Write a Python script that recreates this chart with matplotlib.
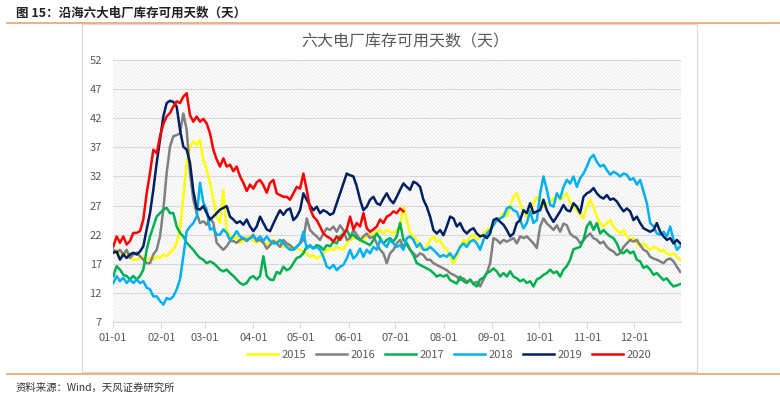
import numpy as np
import matplotlib
matplotlib.use("Agg")
import matplotlib.pyplot as plt
from matplotlib.patches import Rectangle
from matplotlib.lines import Line2D

plt.rcParams['font.family'] = ['Noto Sans CJK SC', 'DejaVu Sans']
plt.rcParams['hatch.linewidth'] = 0.8

# readings taken about every 2.14 days starting 1 Jan (day of year)
sample_days = np.arange(171) * 2.137 + 0.2

month_days = [0, 31, 59, 90, 120, 151, 181, 212, 243, 273, 304, 334]
month_labels = ['01-01', '02-01', '03-01', '04-01', '05-01', '06-01',
                '07-01', '08-01', '09-01', '10-01', '11-01', '12-01']
y_ticks = list(range(7, 53, 5))

y2015 = [18.9, 19.4, 18.6, 18.3, 18.9, 18.0, 17.7, 17.7, 18.0, 18.3,
         17.7, 18.0, 17.7, 18.3, 18.0, 18.6, 18.3, 18.9, 19.4, 20.6,
         22.9, 28.6, 34.3, 37.1, 38.0, 37.4, 38.3, 34.9, 33.1, 30.9,
         28.0, 25.1, 24.0, 29.7, 22.6, 22.0, 21.1, 21.7, 20.6, 20.9,
         21.7, 21.4, 20.9, 20.6, 21.1, 20.6, 20.3, 20.9, 21.1, 20.8,
         20.5, 19.9, 20.2, 19.9, 19.4, 19.6, 19.4, 19.1, 18.8, 18.2,
         18.5, 17.9, 18.2, 18.8, 19.4, 19.6, 19.4, 19.9, 19.6, 19.4,
         20.5, 21.1, 21.4, 21.7, 20.8, 21.1, 21.7, 22.2, 22.0, 22.5,
         22.8, 22.2, 22.8, 22.5, 22.2, 22.8, 23.4, 26.8, 24.5, 22.2,
         21.7, 21.1, 19.9, 19.4, 19.9, 21.1, 21.7, 20.8, 21.1, 19.9,
         19.4, 18.2, 17.1, 18.2, 19.9, 21.1, 20.5, 21.7, 22.0, 21.1,
         21.7, 22.2, 22.8, 23.1, 24.0, 24.5, 24.8, 25.7, 25.1, 27.0,
         28.5, 29.1, 27.4, 26.0, 25.1, 26.2, 27.4, 28.5, 28.0, 26.8,
         27.4, 27.7, 28.2, 28.8, 28.0, 28.5, 29.1, 27.4, 26.8, 26.2,
         25.4, 24.8, 26.8, 28.0, 26.8, 25.1, 24.0, 23.4, 24.0, 24.5,
         23.4, 22.8, 22.2, 22.8, 21.7, 21.1, 21.4, 20.5, 19.9, 20.5,
         19.9, 19.4, 19.9, 19.7, 19.1, 19.4, 18.8, 18.5, 18.8, 18.2, 17.7]

y2016 = [19.4, 18.9, 19.4, 18.6, 19.4, 18.0, 18.6, 18.9, 18.3, 17.7,
         17.1, 17.1, 18.6, 19.4, 21.7, 26.3, 32.6, 37.1, 38.9, 39.1,
         39.4, 42.8, 40.0, 32.6, 28.0, 25.7, 24.0, 24.3, 23.7, 24.9,
         24.0, 20.6, 20.0, 19.4, 20.0, 20.9, 20.9, 20.6, 21.1, 21.4,
         20.9, 21.4, 22.0, 20.9, 21.1, 20.6, 19.6, 20.2, 20.9, 20.5,
         19.9, 21.1, 20.5, 20.2, 19.6, 19.9, 20.5, 21.1, 24.8, 22.8,
         22.2, 21.7, 21.1, 22.2, 23.1, 22.8, 23.4, 22.5, 23.6, 22.8,
         21.1, 21.4, 22.8, 22.0, 21.1, 21.7, 22.2, 21.4, 21.7, 20.5,
         19.4, 18.8, 17.1, 18.8, 19.4, 20.5, 21.1, 19.9, 20.5, 19.4,
         18.8, 18.2, 18.8, 18.5, 17.7, 17.7, 17.1, 16.8, 16.5, 16.2,
         15.9, 15.4, 15.1, 14.8, 14.2, 14.5, 13.9, 14.2, 13.6, 13.9,
         13.1, 14.3, 15.4, 17.1, 21.4, 21.1, 20.5, 21.1, 20.8, 21.1,
         21.4, 20.5, 21.7, 21.4, 21.7, 21.1, 20.5, 19.7, 23.4, 24.8,
         23.9, 23.4, 22.8, 23.6, 22.5, 23.9, 23.6, 22.2, 21.7, 21.4,
         20.5, 21.1, 21.7, 22.2, 21.4, 21.1, 20.5, 20.8, 19.9, 19.4,
         19.1, 18.5, 18.8, 19.9, 20.5, 21.1, 20.8, 21.1, 20.2, 19.4,
         19.1, 18.2, 17.9, 17.7, 17.4, 17.1, 17.7, 17.9, 17.4, 16.5, 15.6]

y2017 = [14.9, 16.6, 16.0, 15.1, 14.9, 14.3, 14.9, 14.3, 14.9, 16.0,
         19.4, 21.7, 23.4, 25.1, 25.7, 26.3, 26.6, 25.7, 25.7, 23.4,
         22.3, 21.7, 20.6, 20.0, 19.4, 18.6, 18.0, 17.7, 17.1, 17.4,
         17.1, 16.6, 16.0, 15.7, 16.0, 15.4, 14.9, 14.3, 13.7, 13.4,
         13.7, 14.6, 14.9, 14.3, 14.9, 18.3, 14.9, 14.3, 14.2, 15.6,
         15.3, 16.5, 15.9, 16.2, 17.1, 18.0, 18.2, 18.8, 20.0, 20.0,
         19.7, 20.2, 20.0, 19.4, 20.2, 20.0, 20.8, 20.5, 21.7, 22.2,
         22.8, 21.7, 22.0, 21.4, 21.1, 20.8, 20.5, 20.2, 21.1, 22.2,
         21.4, 20.5, 21.1, 21.4, 20.8, 21.7, 24.0, 21.1, 20.5, 19.4,
         18.5, 17.1, 16.8, 16.5, 16.2, 15.9, 15.4, 14.8, 15.1, 14.8,
         15.1, 14.2, 13.9, 13.6, 14.8, 14.0, 13.7, 14.3, 13.5, 13.1,
         14.3, 14.6, 15.4, 15.7, 16.2, 15.7, 14.8, 15.4, 14.8, 15.7,
         14.8, 14.5, 14.0, 14.3, 13.7, 14.0, 13.1, 14.3, 14.6, 15.1,
         15.4, 16.0, 15.4, 15.7, 14.8, 16.0, 16.6, 17.7, 19.5, 19.7,
         19.9, 21.1, 23.4, 24.2, 22.8, 24.0, 22.2, 22.8, 22.2, 21.7,
         21.4, 20.5, 19.1, 18.8, 19.4, 18.8, 19.1, 17.7, 17.4, 16.3,
         16.6, 16.0, 15.1, 15.4, 14.8, 14.2, 14.5, 13.7, 13.1, 13.3, 13.5]

y2018 = [13.7, 14.9, 14.0, 14.6, 13.7, 14.3, 13.7, 14.3, 13.7, 14.0,
         12.9, 12.6, 11.4, 11.4, 10.6, 10.0, 11.1, 10.9, 11.4, 12.6,
         14.3, 18.3, 22.6, 23.4, 24.0, 25.1, 30.9, 27.5, 26.3, 22.9,
         23.1, 22.0, 22.0, 22.9, 22.3, 21.1, 21.7, 22.6, 21.7, 21.4,
         21.1, 21.4, 21.7, 21.1, 21.7, 20.9, 21.7, 20.9, 20.5, 20.5,
         21.1, 20.5, 19.9, 19.4, 19.4, 19.9, 20.5, 22.5, 19.6, 20.2,
         19.6, 19.9, 19.4, 18.2, 16.5, 16.2, 16.8, 15.9, 16.5, 16.8,
         17.9, 19.4, 17.9, 18.5, 19.6, 18.2, 19.4, 18.8, 19.9, 19.4,
         21.1, 20.5, 19.9, 21.1, 20.5, 19.9, 20.2, 19.4, 21.4, 21.7,
         21.1, 19.9, 20.5, 19.4, 19.4, 19.9, 19.4, 18.8, 18.2, 18.5,
         18.2, 18.8, 17.9, 18.8, 19.9, 20.5, 19.9, 20.8, 21.1, 20.5,
         19.4, 21.1, 22.2, 22.8, 23.6, 24.5, 24.8, 25.1, 26.5, 26.8,
         26.2, 25.9, 24.5, 23.1, 24.0, 26.0, 24.0, 24.5, 29.1, 32.0,
         29.7, 27.1, 26.8, 29.1, 28.2, 30.2, 31.4, 30.8, 32.0, 30.2,
         31.7, 32.5, 33.7, 35.1, 35.7, 34.5, 33.7, 34.0, 33.1, 32.3,
         32.8, 32.5, 32.0, 32.5, 32.3, 31.4, 31.7, 30.6, 31.4, 29.4,
         27.4, 24.0, 23.4, 22.2, 22.0, 22.5, 21.7, 23.4, 21.1, 19.4, 20.0]

y2019 = [18.9, 19.1, 17.7, 18.6, 18.0, 18.6, 18.9, 18.6, 19.1, 20.0,
         22.9, 25.7, 29.7, 34.3, 38.3, 42.3, 44.6, 45.0, 44.8, 44.0,
         40.0, 37.1, 36.6, 34.3, 29.5, 26.5, 26.3, 26.9, 25.7, 24.6,
         25.1, 25.7, 26.3, 26.6, 26.9, 25.1, 24.6, 24.0, 24.3, 23.7,
         24.6, 23.4, 22.6, 23.4, 25.1, 24.0, 22.9, 22.6, 23.9, 25.1,
         26.2, 25.4, 26.2, 26.5, 24.5, 25.1, 26.2, 29.1, 28.0, 27.0,
         26.2, 26.8, 25.7, 26.2, 25.9, 25.4, 25.7, 27.4, 29.1, 30.8,
         32.5, 32.2, 32.0, 30.3, 28.0, 26.2, 26.8, 28.0, 28.5, 27.4,
         27.1, 28.2, 29.1, 28.0, 27.4, 28.5, 29.7, 30.8, 30.2, 29.7,
         31.1, 30.8, 30.2, 28.0, 26.8, 25.1, 22.8, 22.2, 22.8, 21.9,
         23.4, 25.1, 24.8, 23.4, 24.0, 22.8, 22.2, 22.8, 23.1, 22.2,
         21.7, 21.9, 21.4, 22.2, 24.5, 24.8, 24.2, 23.7, 22.8, 21.7,
         22.2, 24.0, 24.5, 26.2, 25.7, 27.4, 25.7, 26.0, 26.2, 28.0,
         26.2, 25.1, 24.2, 25.1, 26.0, 27.1, 26.2, 26.0, 27.4, 26.8,
         25.7, 28.5, 29.1, 29.4, 30.0, 29.1, 28.5, 28.2, 28.8, 28.0,
         28.2, 27.7, 26.8, 26.0, 26.5, 26.0, 24.5, 25.1, 24.0, 23.1,
         22.8, 22.5, 22.8, 24.0, 22.5, 21.7, 21.1, 21.4, 20.5, 21.1, 20.5]

# 2020 only runs into early July
y2020 = [20.0, 21.7, 20.6, 21.7, 20.3, 20.9, 22.3, 22.3, 22.6, 24.6,
         29.1, 32.6, 36.6, 36.0, 38.9, 41.0, 42.3, 42.9, 44.0, 44.9,
         44.6, 45.7, 46.3, 42.5, 41.4, 42.3, 41.4, 41.9, 41.1, 39.4,
         36.6, 34.9, 33.7, 35.1, 33.7, 34.0, 32.9, 33.7, 32.0, 30.9,
         29.5, 30.6, 29.9, 31.0, 31.4, 30.5, 29.2, 30.9, 31.4, 29.1,
         28.8, 28.5, 28.5, 28.0, 29.1, 30.2, 29.9, 32.5, 29.7, 26.5,
         25.1, 24.5, 23.4, 22.2, 21.7, 21.4, 20.8, 21.7, 21.1, 22.0,
         22.9, 25.1, 22.9, 24.0, 23.4, 25.7, 23.1, 22.5, 22.9, 23.4,
         24.6, 24.0, 25.1, 25.4, 26.0, 25.7, 26.5, 26.0]

series = [('2015', y2015, '#FFFF00'),
          ('2016', y2016, '#808080'),
          ('2017', y2017, '#00B050'),
          ('2018', y2018, '#00B0F0'),
          ('2019', y2019, '#002060'),
          ('2020', y2020, '#FF0000')]

W, H = 780, 397
fig = plt.figure(figsize=(W / 100, H / 100), dpi=100)

# report frame: header, orange rules, chart box, source note
fig.text(16 / W, 1 - 13 / H, '图 15：沿海六大电厂库存可用天数（天）',
         fontsize=9, fontweight='bold', color='#222222', ha='left', va='center')
fig.add_artist(Line2D([7 / W, 1], [1 - 23 / H] * 2, color='#EBA36A', lw=1.2))
fig.add_artist(Line2D([7 / W, 1], [1 - 374 / H] * 2, color='#EBA36A', lw=1.2))
fig.add_artist(Rectangle((82 / W, 1 - 372 / H), (697 - 82) / W, (372 - 24) / H,
                         fill=False, edgecolor='#d9d9d9', lw=0.8))
fig.text(16 / W, 1 - 388 / H, '资料来源：Wind，天风证券研究所',
         fontsize=7.5, color='#333333', ha='left', va='center')
fig.text(405 / W, 1 - 42 / H, '六大电厂库存可用天数（天）',
         fontsize=11.5, color='#595959', ha='center', va='center')

ax = fig.add_axes([113 / W, 1 - 322 / H, 568 / W, 262 / H])
# fine diagonal shading behind the plot area
ax.add_patch(Rectangle((0, 0), 1, 1, transform=ax.transAxes, facecolor='white',
                       edgecolor='#ececec', hatch='\\' * 9, lw=0, zorder=0))

for name, vals, color in series:
    ax.plot(sample_days[:len(vals)], vals, color=color, lw=1.8, label=name,
            solid_joinstyle='round', zorder=3)

ax.set_xlim(0, 364)
ax.set_ylim(7, 52)
ax.set_yticks(y_ticks)
ax.set_xticks(month_days)
ax.set_xticklabels(month_labels)
ax.set_axisbelow(True)
ax.yaxis.grid(True, color='#d9d9d9', lw=0.8)

for side in ['top', 'right', 'left']:
    ax.spines[side].set_visible(False)
ax.spines['bottom'].set_color('#d9d9d9')
ax.tick_params(axis='y', length=0, pad=8, labelsize=8, labelcolor='#595959')
ax.tick_params(axis='x', length=4, color='#d9d9d9', pad=4, labelsize=8,
               labelcolor='#595959')

handles, labels = ax.get_legend_handles_labels()
fig.legend(handles, labels, loc='center', bbox_to_anchor=(449 / W, 1 - 355 / H),
           ncol=6, frameon=False, fontsize=8, handlelength=2.8,
           handletextpad=0.3, columnspacing=0.9, labelcolor='#595959')

fig.savefig('out.png', dpi=100)
